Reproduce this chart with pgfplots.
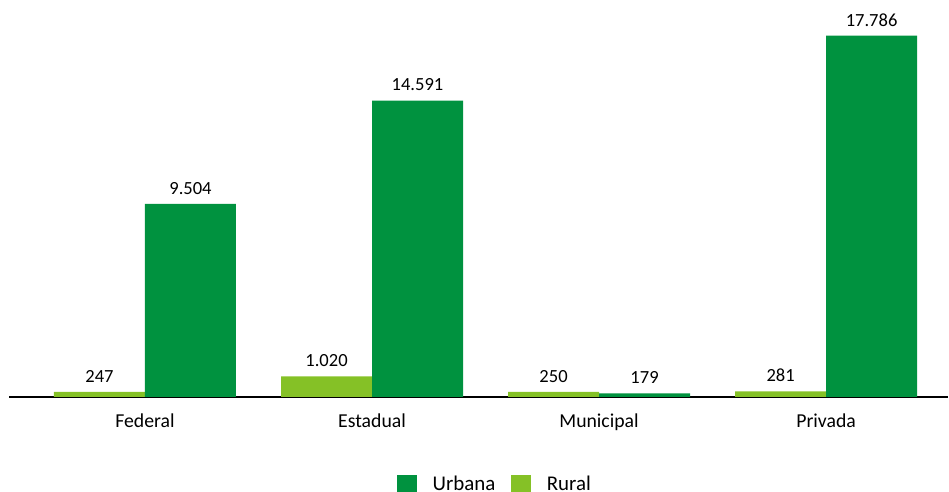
\documentclass[border=0pt]{standalone}
\usepackage{pgfplots}
\pgfplotsset{compat=1.18}
\usepackage{fontspec}
\setmainfont{Carlito}
\definecolor{urbana}{RGB}{0,146,63}
\definecolor{rural}{RGB}{133,193,38}
\begin{document}
\fontsize{14.8}{17}\selectfont
\begin{tikzpicture}
\useasboundingbox (-6.75pt,-71.25pt) rectangle (705pt,297.75pt);
\begin{axis}[
	at={(0,0)}, anchor=south west,
	scale only axis,
	width=704.25pt, height=294pt,
	ybar=0pt,
	bar width=68.25pt,
	xmin=-0.599, xmax=3.537,
	ymin=0, ymax=19300,
	xtick={0,1,2,3},
	xticklabels={Federal,Estadual,Municipal,Privada},
	ytick=\empty,
	axis x line*=bottom,
	axis y line=none,
	x axis line style={black, line width=1.1pt, -},
	xtick style={draw=none},
	xticklabel style={yshift=-3pt, font=\fontsize{14.8}{17}\selectfont},
	/pgf/number format/.cd, 1000 sep={.}, assume math mode=true,
	/pgfplots/.cd,
	nodes near coords,
	nodes near coords style={font=\fontsize{13.9}{16}\selectfont, yshift=2pt},
	reverse legend,
	legend style={
		at={(0.518,-66pt)}, anchor=center,
		legend columns=-1, draw=none,
		font=\fontsize{15.7}{19}\selectfont,
		/tikz/every odd column/.append style={column sep=9.5pt},
		/tikz/every even column/.append style={column sep=10pt},
	},
	legend image code/.code={
		\fill[#1] (0pt,-7.5pt) rectangle (15pt,7.5pt);
	},
]
\addplot[fill=rural, draw=none] coordinates {(0,247) (1,1020) (2,250) (3,281)};
\addplot[fill=urbana, draw=none] coordinates {(0,9504) (1,14591) (2,179) (3,17786)};
\legend{Rural,Urbana}
\end{axis}
\end{tikzpicture}
\end{document}
